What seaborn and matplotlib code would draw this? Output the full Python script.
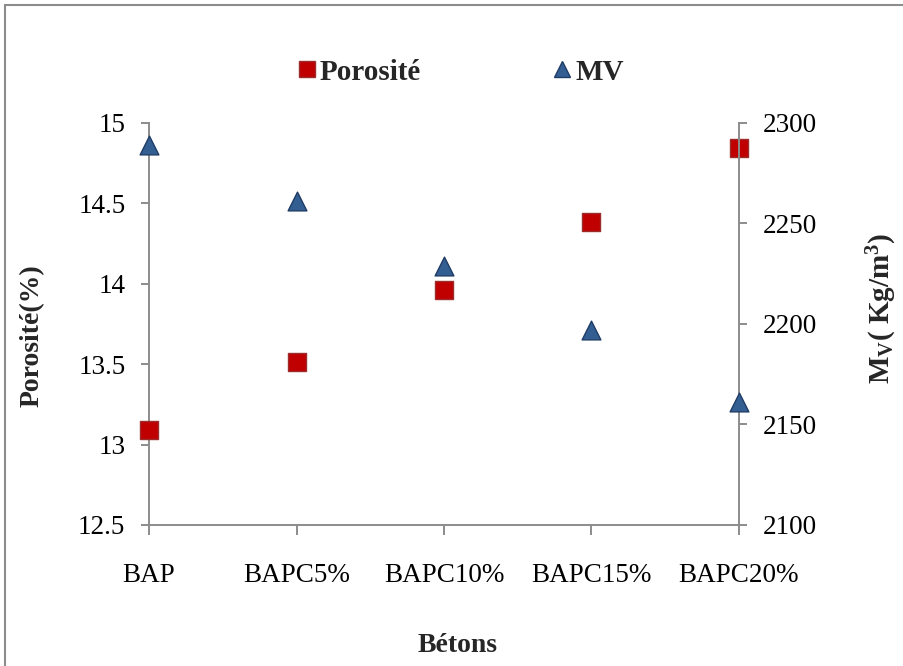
import matplotlib
matplotlib.use("Agg")
import matplotlib.pyplot as plt
import seaborn as sns
import pandas as pd
from matplotlib.lines import Line2D
from matplotlib.patches import Rectangle

categories = ["BAP", "BAPC5%", "BAPC10%", "BAPC15%", "BAPC20%"]
porosite = [13.09, 13.51, 13.96, 14.38, 14.84]
mv = [2289, 2261, 2229, 2197, 2161]
left_ticks = [12.5, 13, 13.5, 14, 14.5, 15]
right_ticks = [2100, 2150, 2200, 2250, 2300]

sns.set_style("white")
plt.rcParams['font.family'] = ['Liberation Serif', 'DejaVu Serif']
plt.rcParams['mathtext.fontset'] = 'custom'
plt.rcParams['mathtext.rm'] = 'Liberation Serif'
plt.rcParams['mathtext.it'] = 'Liberation Serif:italic'
plt.rcParams['mathtext.bf'] = 'Liberation Serif:bold'

df = pd.DataFrame({"Bétons": categories, "Porosité": porosite, "MV": mv})

fig = plt.figure(figsize=(9.04, 6.66), dpi=100)
W, H = 904, 666
ax = fig.add_axes([149 / W, 1 - 525 / H, (739 - 149) / W, (525 - 122.7) / H])
ax2 = ax.twinx()

red = "#C00000"
red_edge = "#9B2D2D"
blue = "#335E91"
blue_edge = "#1F3D66"
ms = 13.5

sns.scatterplot(data=df, x="Bétons", y="Porosité", ax=ax, marker="s", s=ms ** 2,
                color=red, edgecolor=red_edge, linewidth=1.0, zorder=3, clip_on=False)
sns.scatterplot(data=df, x="Bétons", y="MV", ax=ax2, marker="^", s=ms ** 2,
                color=blue, edgecolor=blue_edge, linewidth=1.0, zorder=3, clip_on=False)

ax.set_xlim(0, len(categories) - 1)
ax.set_ylim(12.5, 15)
ax2.set_ylim(2100, 2300)
ax.set_yticks(left_ticks)
ax.set_yticklabels([f"{t:g}" for t in left_ticks])
ax2.set_yticks(right_ticks)
ax2.set_yticklabels([str(t) for t in right_ticks])

spine_col = "#8C8C8C"
for a in (ax, ax2):
    for s in a.spines.values():
        s.set_color(spine_col)
        s.set_linewidth(1.4)
    a.spines["top"].set_visible(False)
    a.grid(False)
    a.set_facecolor("none")
ax.spines["right"].set_visible(False)
ax2.spines["left"].set_visible(False)
ax2.spines["bottom"].set_visible(False)

fs = 19.5
ax.tick_params(axis="y", which="both", left=True, direction="out", length=6, width=1.4,
               color=spine_col, labelsize=fs, pad=11, labelcolor="black")
ax.tick_params(axis="x", bottom=True, direction="out", length=7, width=1.4,
               color=spine_col, labelsize=fs, pad=20, labelcolor="black")
ax2.tick_params(axis="y", right=True, direction="out", length=6, width=1.4,
                color=spine_col, labelsize=fs, pad=11, labelcolor="black")

ax.set_xlabel("")
ax.set_ylabel("")
ax2.set_ylabel("")
lfs = 20
fig.text(458 / W, 1 - 646 / H, "Bétons", ha="center", va="center", fontsize=lfs, fontweight="bold")
fig.text(32 / W, 1 - 336 / H, "Porosité(%)", ha="center", va="center", rotation=90,
         fontsize=lfs, fontweight="bold")
fig.text(882 / W, 1 - 308 / H, r"M$_\mathbf{V}$( Kg/m$^\mathbf{3}$)", ha="center", va="center",
         rotation=90, fontsize=21, fontweight="bold")

handles = [
    Line2D([], [], linestyle="none", marker="s", markersize=12, markerfacecolor=red,
           markeredgecolor=red_edge, markeredgewidth=1.0),
    Line2D([], [], linestyle="none", marker="^", markersize=12, markerfacecolor=blue,
           markeredgecolor=blue_edge, markeredgewidth=1.0),
]
leg = fig.legend(handles, ["Porosité", "MV"], loc="center", bbox_to_anchor=(461 / W, 1 - 72 / H),
                 ncol=2, frameon=False,
                 prop={"family": "Liberation Serif", "size": 21, "weight": "bold"},
                 handlelength=0.6, handletextpad=0.15, columnspacing=4.55,
                 borderpad=0, borderaxespad=0)

fig.patches.append(Rectangle((5 / W, -0.05), 1.1, 1 - 5 / H + 0.05, transform=fig.transFigure,
                             fill=False, edgecolor="#8C8C8C", linewidth=1.5))

fig.savefig("out.png", dpi=100)
